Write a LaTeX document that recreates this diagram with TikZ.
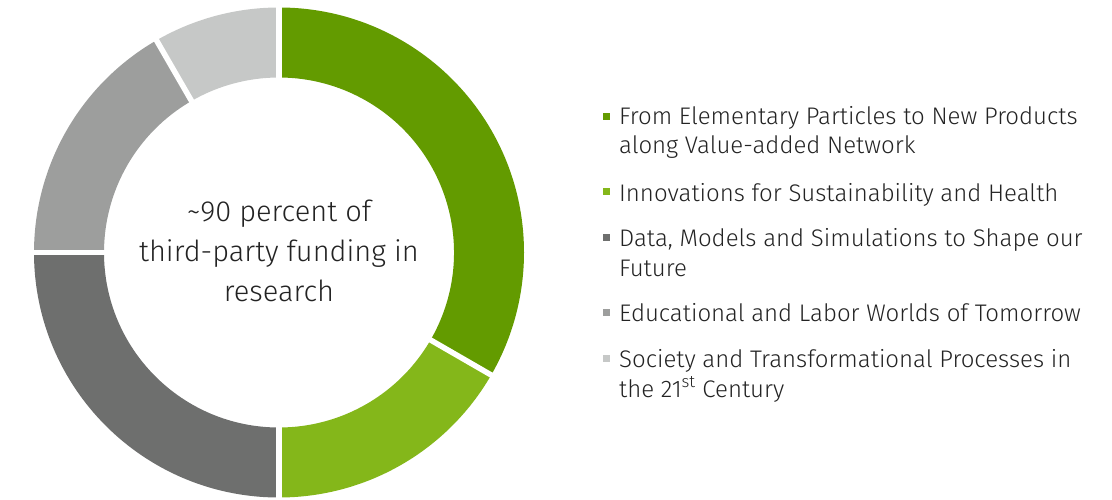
\documentclass[tikz,border=0pt]{standalone}
\usepackage{fontspec}
\setmainfont{Fira Sans Light}
\definecolor{dgreen}{RGB}{99,155,0}
\definecolor{lgreen}{RGB}{132,183,26}
\definecolor{dgray}{RGB}{110,111,110}
\definecolor{mgray}{RGB}{157,158,157}
\definecolor{lgray}{RGB}{198,200,199}
\definecolor{txt}{RGB}{35,35,35}
\newcommand\Ro{245}
\newcommand\Ri{175}
\newcommand\donutseg[3]{\fill[#3] ([shift={(#1:\Ro)}]C) arc[start angle=#1,end angle=#2,radius=\Ro] -- ([shift={(#2:\Ri)}]C) arc[start angle=#2,end angle=#1,radius=\Ri] -- cycle;}
\newcommand\donutgap[1]{\draw[white,line width=5.5] ([shift={(#1:\Ri-8)}]C) -- ([shift={(#1:\Ro+8)}]C);}
\tikzset{
  legtext/.style={anchor=base west,inner sep=0,text=txt,font=\fontsize{24}{28}\selectfont},
  centertext/.style={anchor=base,inner sep=0,text=txt,font=\fontsize{29}{36}\selectfont},
  bullet/.style={minimum size=7,inner sep=0,draw=none,anchor=center}
}
\begin{document}
\begin{tikzpicture}[x=1pt,y=1pt]
\useasboundingbox (0,0) rectangle (1112,499);
\coordinate (C) at (279,246.5);
\donutseg{90}{-30}{dgreen}
\donutseg{-30}{-90}{lgreen}
\donutseg{-90}{-180}{dgray}
\donutseg{180}{120}{mgray}
\donutseg{120}{90}{lgray}
\donutgap{90}
\donutgap{-30}
\donutgap{-90}
\donutgap{180}
\donutgap{120}
\node[centertext] (c1) at (279,499-222) {\char`~90 percent of};
\node[centertext] (c2) at (279,499-261.5) {third-party funding in};
\node[centertext] (c3) at (279,499-301) {research};
\node[bullet,fill=dgreen] (b1) at (606.5,499-117) {};
\node[bullet,fill=lgreen] (b2) at (606.5,499-192) {};
\node[bullet,fill=dgray] (b3) at (606.5,499-238) {};
\node[bullet,fill=mgray] (b4) at (606.5,499-312) {};
\node[bullet,fill=lgray] (b5) at (606.5,499-358) {};
\node[legtext] (l1a) at (619,499-125) {From Elementary Particles to New Products};
\node[legtext] (l1b) at (619,499-154) {along Value-added Network};
\node[legtext] (l2) at (619,499-201) {Innovations for Sustainability and Health};
\node[legtext] (l3a) at (619,499-247) {Data, Models and Simulations to Shape our};
\node[legtext] (l3b) at (619,499-276) {Future};
\node[legtext] (l4) at (619,499-321) {Educational and Labor Worlds of Tomorrow};
\node[legtext] (l5a) at (619,499-367) {Society and Transformational Processes in};
\node[legtext] (l5b) at (619,499-397) {the 21\textsuperscript{st} Century};
\end{tikzpicture}
\end{document}
